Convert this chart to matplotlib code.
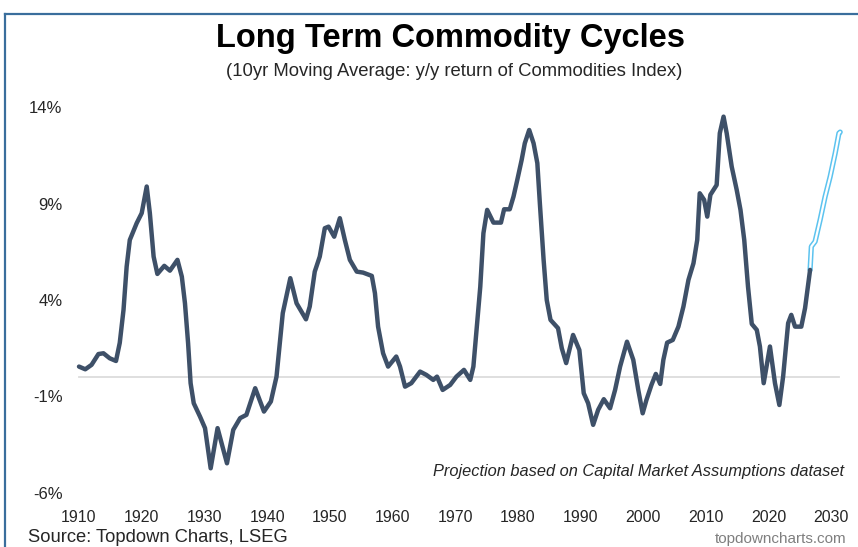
import matplotlib
matplotlib.use("Agg")
import matplotlib.pyplot as plt
from matplotlib.lines import Line2D

plt.rcParams['font.family'] = ['Liberation Sans', 'DejaVu Sans']

hist_years = [1910.0, 1911.0, 1912.0, 1913.1, 1913.9, 1914.9, 1915.9, 1916.5, 1917.1, 1917.6,
              1918.1, 1919.2, 1920.0, 1920.8, 1921.3, 1921.9, 1922.5, 1923.6, 1924.5, 1925.7,
              1926.4, 1926.9, 1927.4, 1927.8, 1928.3, 1929.3, 1930.1, 1931.0, 1932.1, 1933.6,
              1934.6, 1935.7, 1936.7, 1938.1, 1939.5, 1940.6, 1941.5, 1942.5, 1943.7, 1944.7,
              1946.2, 1946.8, 1947.6, 1948.4, 1949.2, 1949.8, 1950.7, 1951.6, 1952.4, 1953.2,
              1954.3, 1955.3, 1956.7, 1957.2, 1957.7, 1958.5, 1959.3, 1960.6, 1961.2, 1962.0,
              1963.0, 1964.4, 1965.4, 1966.5, 1967.1, 1968.0, 1969.2, 1970.2, 1971.4, 1972.4,
              1972.9, 1973.4, 1974.0, 1974.5, 1975.1, 1976.1, 1977.3, 1977.8, 1978.7, 1979.3,
              1979.9, 1980.6, 1981.1, 1981.8, 1982.5, 1983.1, 1983.5, 1984.1, 1984.6, 1985.2,
              1986.4, 1987.0, 1987.7, 1988.8, 1989.8, 1990.5, 1991.2, 1992.0, 1992.8, 1993.7,
              1994.7, 1995.5, 1996.3, 1997.4, 1998.4, 1999.2, 1999.9, 2000.5, 2001.3, 2002.0,
              2002.7, 2003.2, 2003.8, 2004.7, 2005.6, 2006.4, 2007.2, 2008.0, 2008.6, 2009.0,
              2009.7, 2010.2, 2010.7, 2011.7, 2012.2, 2012.8, 2013.3, 2014.1, 2014.9, 2015.5,
              2016.1, 2016.7, 2017.3, 2018.1, 2018.6, 2019.2, 2020.2, 2021.0, 2021.7, 2022.3,
              2023.1, 2023.6, 2024.2, 2025.2, 2025.8, 2026.6]
hist_vals = [0.55, 0.41, 0.64, 1.20, 1.24, 0.98, 0.84, 1.78, 3.49, 5.73,
             7.11, 7.98, 8.50, 9.88, 8.50, 6.25, 5.35, 5.77, 5.52, 6.08,
             5.21, 3.83, 1.76, -0.31, -1.35, -2.04, -2.64, -4.72, -2.64, -4.46,
             -2.73, -2.12, -1.95, -0.57, -1.78, -1.26, 0.03, 3.32, 5.13, 3.83,
             3.00, 3.66, 5.47, 6.25, 7.72, 7.80, 7.28, 8.24, 7.11, 6.08,
             5.47, 5.42, 5.25, 4.35, 2.62, 1.24, 0.55, 1.07, 0.55, -0.49,
             -0.31, 0.29, 0.12, -0.14, 0.03, -0.66, -0.40, 0.03, 0.38, -0.14,
             0.55, 2.45, 4.69, 7.46, 8.67, 8.01, 8.01, 8.70, 8.70, 9.36,
             10.22, 11.26, 12.12, 12.81, 12.12, 11.09, 9.02, 6.08, 4.00, 2.97,
             2.54, 1.50, 0.73, 2.19, 1.41, -0.83, -1.35, -2.47, -1.69, -1.14,
             -1.61, -0.66, 0.55, 1.84, 0.90, -0.66, -1.87, -1.18, -0.40, 0.17,
             -0.35, 0.90, 1.79, 1.93, 2.62, 3.66, 5.04, 5.90, 7.11, 9.53,
             9.19, 8.32, 9.45, 9.96, 12.64, 13.50, 12.64, 10.91, 9.70, 8.67,
             7.11, 4.69, 2.76, 2.45, 1.59, -0.31, 1.59, -0.31, -1.44, 0.03,
             2.80, 3.23, 2.62, 2.62, 3.58, 5.56]

proj_years = [2026.6, 2026.8, 2027.4, 2028.2, 2029.0, 2029.8, 2030.6, 2031.2, 2031.4]
proj_vals = [5.56, 6.77, 7.03, 8.15, 9.36, 10.39, 11.60, 12.64, 12.70]

x_ticks = [1910, 1920, 1930, 1940, 1950, 1960, 1970, 1980, 1990, 2000, 2010, 2020, 2030]
y_ticks = [-6, -1, 4, 9, 14]

W, H = 858, 547
fig = plt.figure(figsize=(W / 100, H / 100), dpi=100)
fig.patch.set_facecolor('white')

# axes placement in pixels
xmin, xmax = 1909.6, 2032.0
px_per_year = 6.27
left_px = 79 + (xmin - 1910) * px_per_year
right_px = 79 + (xmax - 1910) * px_per_year
bottom_px, top_px = 493, 107
ax = fig.add_axes([left_px / W, 1 - bottom_px / H, (right_px - left_px) / W, (bottom_px - top_px) / H])
ax.set_xlim(xmin, xmax)
ax.set_ylim(-6, 14)
for s in ax.spines.values():
    s.set_visible(False)
ax.set_facecolor('none')

ax.plot([1910, 2031.2], [0, 0], color='#dcdcdc', lw=1.3, zorder=1)
ax.plot(hist_years, hist_vals, color='#3e5068', lw=3.2, solid_joinstyle='round',
        solid_capstyle='round', zorder=3)
ax.plot(proj_years, proj_vals, color='#5cc3ef', lw=3.8, solid_joinstyle='round',
        solid_capstyle='round', zorder=2)
ax.plot(proj_years, proj_vals, color='white', lw=1.6, solid_joinstyle='round',
        solid_capstyle='round', zorder=2.5)

ax.set_xticks(x_ticks)
ax.set_xticklabels([str(v) for v in x_ticks])
ax.set_yticks(y_ticks)
ax.set_yticklabels([f"{v}%" for v in y_ticks])
ax.tick_params(axis='x', length=0, labelsize=11.5, colors='#262626', pad=12)
ax.tick_params(axis='y', length=0, labelsize=12, colors='#262626', pad=10)

ax.text(1.0, 0.055, 'Projection based on Capital Market Assumptions dataset',
        transform=ax.transAxes, ha='right', va='center', style='italic',
        fontsize=11.8, color='#262626')

fig.text(451 / W, 1 - 38 / H, 'Long Term Commodity Cycles', ha='center', va='center',
         fontsize=23.5, fontweight='bold', color='black')
fig.text(454 / W, 1 - 72 / H, '(10yr Moving Average: y/y return of Commodities Index)',
         ha='center', va='center', fontsize=13.3, color='#262626')
fig.text(28 / W, 1 - 538 / H, 'Source: Topdown Charts, LSEG', ha='left', va='center',
         fontsize=13.2, color='#262626')
fig.text(846 / W, 1 - 539 / H, 'topdowncharts.com', ha='right', va='center',
         fontsize=11, color='#7f7f7f')

# frame lines
fig.add_artist(Line2D([5 / W, 1.0], [1 - 14 / H, 1 - 14 / H], color='#3a6e9c', lw=1.6,
                      transform=fig.transFigure))
fig.add_artist(Line2D([5 / W, 5 / W], [0.0, 1 - 14 / H], color='#3a6e9c', lw=1.6,
                      transform=fig.transFigure))

fig.savefig('out.png', dpi=100)
